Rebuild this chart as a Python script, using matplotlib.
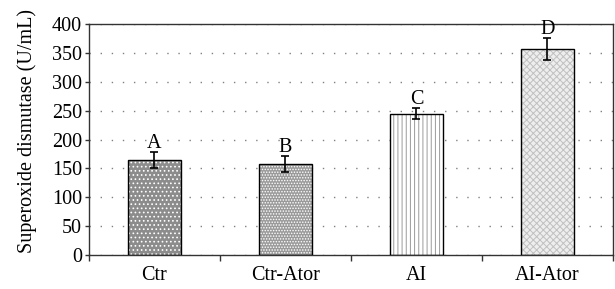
import matplotlib
matplotlib.use("Agg")
import matplotlib.pyplot as plt
import numpy as np

# 数据
groups = ['Ctr', 'Ctr-Ator', 'AI', 'AI-Ator']
means = [164, 157, 245, 357]
errs = [14, 14, 10, 19]
letters = ['A', 'B', 'C', 'D']

# 样式
face_colors = ['#8c8c8c', '#9a9a9a', '#ffffff', '#eeeeee']
hatch_colors = ['#ffffff', '#ffffff', '#9a9a9a', '#c0c0c0']
hatches = ['....', '......', '||||', 'xxxxx']

plt.rcParams['font.family'] = ['Liberation Serif', 'DejaVu Serif']
plt.rcParams['hatch.linewidth'] = 0.7

fig = plt.figure(figsize=(6.15, 2.89), dpi=100)
ax = fig.add_axes([0.1447, 0.1176, 0.852, 0.799])

x = np.arange(len(groups))
width = 0.41

# 填充 + 花纹（花纹颜色用 edgecolor）
for i in range(len(groups)):
    ax.bar(x[i], means[i], width=width, color=face_colors[i],
           edgecolor=hatch_colors[i], hatch=hatches[i], linewidth=0, zorder=2)
# 黑色边框
ax.bar(x, means, width=width, fill=False, edgecolor='black', linewidth=1.0, zorder=3)

ax.errorbar(x, means, yerr=errs, fmt='none', ecolor='black', elinewidth=1.2,
            capsize=3.2, capthick=1.2, zorder=4)

for i in range(len(groups)):
    ax.annotate(letters[i], (x[i], means[i] + errs[i]), xytext=(0, -0.5),
                textcoords='offset points', ha='center', va='bottom', fontsize=14.5, zorder=5)

ax.set_xlim(-0.5, 3.5)
ax.set_ylim(0, 400)
ax.set_yticks(np.arange(0, 401, 50))
ax.set_xticks(x)
ax.set_xticklabels(groups)
ax.set_xticks(np.arange(-0.5, 3.6, 1.0), minor=True)
ax.tick_params(axis='x', which='major', length=0, pad=8, labelsize=14.5)
ax.tick_params(axis='x', which='minor', length=4, direction='out', width=1, color='#333333')
ax.tick_params(axis='y', length=3, direction='out', width=1, pad=2, labelsize=14.5, color='#333333')

ax.yaxis.grid(True, color='#808080', linestyle=(0, (1, 7)), linewidth=1.0)
ax.set_axisbelow(True)

for s in ax.spines.values():
    s.set_color('#333333')
    s.set_linewidth(1.0)

ax.set_ylabel('Superoxide dismutase (U/mL)', fontsize=14.5)
ax.yaxis.set_label_coords(-0.1, 0.535)

fig.savefig('out.png', dpi=100)
